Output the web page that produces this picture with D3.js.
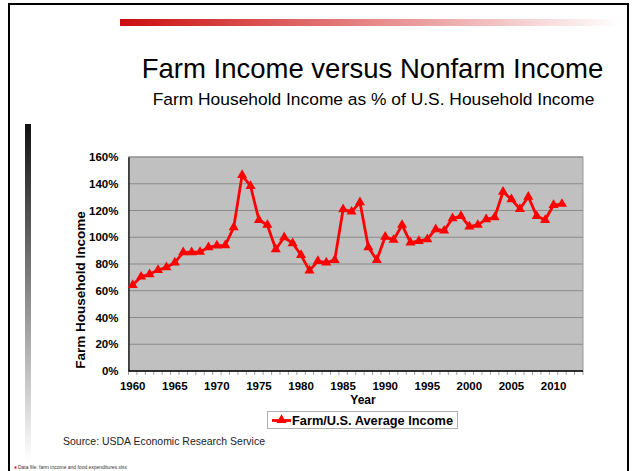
<!DOCTYPE html>
<html>
<head>
<meta charset="utf-8">
<script src="https://cdn.jsdelivr.net/npm/d3@7"></script>
<style>
  html, body { margin: 0; padding: 0; background: #fff; }
  svg { display: block; font-family: "Liberation Sans", Arial, sans-serif; }
</style>
</head>
<body>
<svg id="chart" width="640" height="471"></svg>
<script>
// Farm household income as a share of U.S. average household income
const years = [1960,1961,1962,1963,1964,1965,1966,1967,1968,1969,
               1970,1971,1972,1973,1974,1975,1976,1977,1978,1979,
               1980,1981,1982,1983,1984,1985,1986,1987,1988,1989,
               1990,1991,1992,1993,1994,1995,1996,1997,1998,1999,
               2000,2001,2002,2003,2004,2005,2006,2007,2008,2009,
               2010,2011];
const farmPct = [64.3,70.5,72.3,75.5,77.5,81.0,88.7,88.8,89.0,92.5,
                 93.7,94.0,107.4,146.5,138.3,112.9,109.2,91.0,100.0,95.5,
                 86.7,75.0,82.2,81.0,83.0,120.9,119.1,126.1,92.5,83.0,
                 100.4,98.0,109.2,96.0,97.2,98.5,106.0,104.9,114.2,115.9,
                 107.9,109.2,113.4,114.9,134.0,128.3,121.1,130.3,115.9,112.9,
                 124.1,124.9];
// the category axis runs a little past the last observation
const axisYears = d3.range(1960, 2014);
const xTickLabels = [1960,1965,1970,1975,1980,1985,1990,1995,2000,2005,2010];
const yTicks = [0,20,40,60,80,100,120,140,160];
const seriesName = "Farm/U.S. Average Income";

const svg = d3.select("#chart");
const defs = svg.append("defs");

// slide decoration: frame and gradient bars
const gRed = defs.append("linearGradient").attr("id", "redBar");
gRed.append("stop").attr("offset", "0%").attr("stop-color", "#cc0d0d");
gRed.append("stop").attr("offset", "100%").attr("stop-color", "#ffffff");
const gDark = defs.append("linearGradient").attr("id", "darkBar")
  .attr("x1", 0).attr("y1", 0).attr("x2", 0).attr("y2", 1);
gDark.append("stop").attr("offset", "0%").attr("stop-color", "#111111");
gDark.append("stop").attr("offset", "100%").attr("stop-color", "#ffffff");

svg.append("rect").attr("x", 9).attr("y", 4).attr("width", 619).attr("height", 490)
  .attr("fill", "none").attr("stroke", "#000").attr("stroke-width", 2);
svg.append("rect").attr("x", 120).attr("y", 19).attr("width", 500).attr("height", 7)
  .attr("fill", "url(#redBar)");
svg.append("rect").attr("x", 25).attr("y", 124).attr("width", 6).attr("height", 336)
  .attr("fill", "url(#darkBar)");

// titles
svg.append("text").attr("x", 372.5).attr("y", 78).attr("text-anchor", "middle")
  .attr("font-size", 27.5).attr("fill", "#000")
  .text("Farm Income versus Nonfarm Income");
svg.append("text").attr("x", 373.5).attr("y", 104.5).attr("text-anchor", "middle")
  .attr("font-size", 17.4).attr("fill", "#000")
  .text("Farm Household Income as % of U.S. Household Income");

// plot area
const plotL = 128.5, plotR = 583, plotT = 157, plotB = 371;
const x = d3.scaleBand().domain(axisYears).range([plotL, plotR]);
const y = d3.scaleLinear().domain([0, 160]).range([plotB, plotT]);
const cx = d => x(d) + x.bandwidth() / 2;

svg.append("rect").attr("x", plotL).attr("y", plotT)
  .attr("width", plotR - plotL).attr("height", plotB - plotT)
  .attr("fill", "#c0c0c0").attr("stroke", "#9a9a9a").attr("stroke-width", 1);

svg.append("g").selectAll("line").data(yTicks.slice(1)).join("line")
  .attr("x1", plotL).attr("x2", plotR)
  .attr("y1", d => y(d)).attr("y2", d => y(d))
  .attr("stroke", "#8a8a8a").attr("stroke-width", 1);

// y axis
const yAxis = svg.append("g").attr("transform", `translate(${plotL},0)`)
  .call(d3.axisLeft(y).tickValues(yTicks).tickSize(0).tickPadding(10)
    .tickFormat(d => d + "%"));
yAxis.select(".domain").attr("stroke", "#000").attr("stroke-width", 1.2);
yAxis.selectAll("text").attr("font-size", 11.5).attr("font-weight", "bold")
  .attr("font-family", "Liberation Sans, Arial, sans-serif").attr("fill", "#000");

// x axis: tick marks on the category boundaries, labels every fifth year
const xAxis = svg.append("g").attr("transform", `translate(0,${plotB})`);
xAxis.selectAll("line.tk").data(axisYears.concat([2014])).join("line")
  .attr("class", "tk")
  .attr("x1", d => d === 2014 ? plotR : x(d)).attr("x2", d => d === 2014 ? plotR : x(d))
  .attr("y1", 0).attr("y2", 4).attr("stroke", "#888").attr("stroke-width", 0.8);
xAxis.append("line").attr("x1", plotL).attr("x2", plotR).attr("y1", 0).attr("y2", 0)
  .attr("stroke", "#000").attr("stroke-width", 1.5);
xAxis.selectAll("text").data(xTickLabels).join("text")
  .attr("x", d => cx(d)).attr("y", 19).attr("text-anchor", "middle")
  .attr("font-size", 11.5).attr("font-weight", "bold").attr("fill", "#000")
  .text(d => d);

// axis titles
svg.append("text").attr("x", 363).attr("y", 404).attr("text-anchor", "middle")
  .attr("font-size", 12).attr("font-weight", "bold").text("Year");
svg.append("text").attr("transform", "translate(85,290) rotate(-90)")
  .attr("text-anchor", "middle").attr("font-size", 13.5).attr("font-weight", "bold")
  .text("Farm Household Income");

// series line and triangle markers
const line = d3.line().x((d, i) => cx(years[i])).y(d => y(d));
svg.append("path").datum(farmPct).attr("d", line)
  .attr("fill", "none").attr("stroke", "#ff0000").attr("stroke-width", 2.8)
  .attr("stroke-linejoin", "round");
const tri = d3.symbol().type(d3.symbolTriangle).size(44);
svg.append("g").selectAll("path").data(farmPct).join("path")
  .attr("transform", (d, i) => `translate(${cx(years[i])},${y(d)})`)
  .attr("d", tri).attr("fill", "#ff0000");

// legend, centred under the plot
const lg = svg.append("g");
lg.append("rect").attr("x", 267.5).attr("y", 411.5).attr("width", 190).attr("height", 17)
  .attr("fill", "#fff").attr("stroke", "#b0b0b0").attr("stroke-width", 1);
lg.append("line").attr("x1", 272).attr("x2", 291).attr("y1", 420.5).attr("y2", 420.5)
  .attr("stroke", "#ff0000").attr("stroke-width", 2.8);
lg.append("path").attr("transform", "translate(281.5,420)").attr("d", tri).attr("fill", "#ff0000");
lg.append("text").attr("x", 292).attr("y", 425).attr("font-size", 12.7).attr("font-weight", "bold")
  .attr("textLength", 161).attr("lengthAdjust", "spacingAndGlyphs")
  .text(seriesName);

// source notes
svg.append("text").attr("x", 63).attr("y", 445).attr("font-size", 10.4).attr("fill", "#222")
  .attr("textLength", 202).attr("lengthAdjust", "spacingAndGlyphs")
  .text("Source: USDA Economic Research Service");
svg.append("rect").attr("x", 14.5).attr("y", 466.5).attr("width", 2).attr("height", 2).attr("fill", "#e00000");
svg.append("text").attr("x", 18).attr("y", 469).attr("font-size", 5).attr("fill", "#333")
  .attr("textLength", 109).attr("lengthAdjust", "spacingAndGlyphs")
  .text("Data file: farm income and food expenditures.xlsx");
</script>
</body>
</html>
